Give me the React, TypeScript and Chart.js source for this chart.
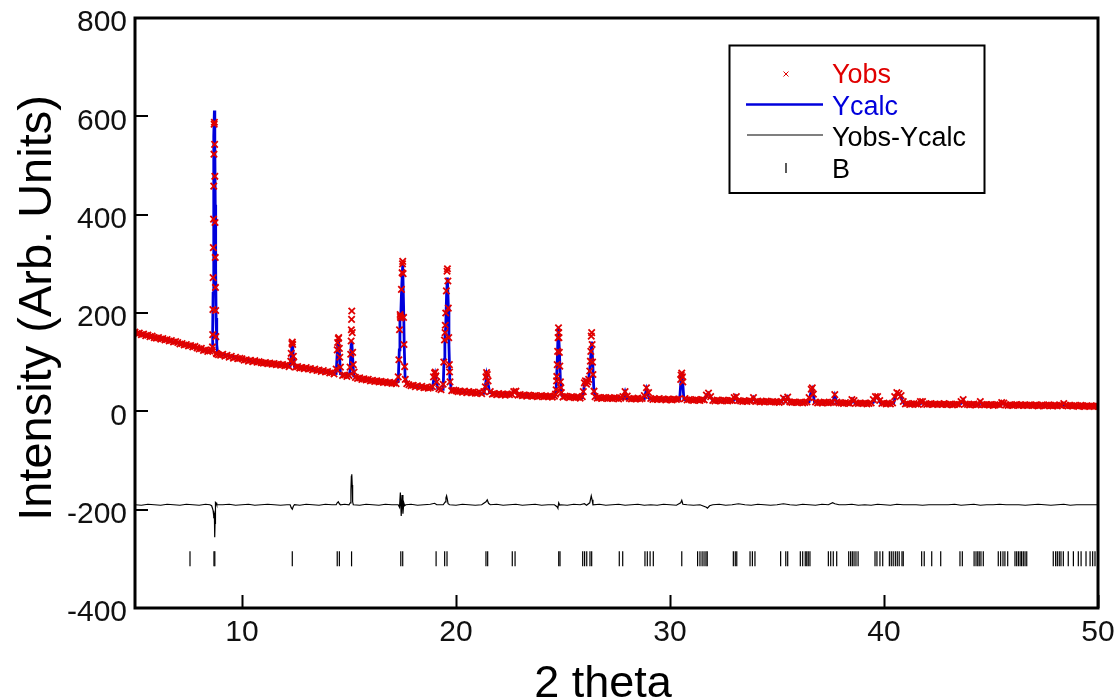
import React, { useEffect, useRef } from "react";
import { Chart, registerables } from "chart.js";

Chart.register(...registerables);

const FONT = '"Liberation Sans", Arial, Helvetica, sans-serif';
const RED = "#e00000";
const BLUE = "#0000dc";

const xTitle = "2 theta";
const yTitle = "Intensity (Arb. Units)";
const xTicks = [10, 20, 30, 40, 50];
const yTicks = [-400, -200, 0, 200, 400, 600, 800];
const legendLabels = ["Yobs", "Ycalc", "Yobs-Ycalc", "B"];

// Yobs on the measurement grid: 2θ = 5.0, 5.1, ... 50.0
const obsStart = 5;
const obsStep = 0.1;
const obsY = [
  161, 158, 159, 156, 157, 154, 155, 152, 153, 150,
  149, 150, 147, 148, 145, 146, 143, 144, 141, 142,
  140, 137, 138, 135, 136, 133, 134, 131, 132, 129,
  127, 128, 124, 125, 122, 123, 124, 584, 118, 115,
  114, 116, 112, 114, 110, 112, 108, 110, 107, 108,
  107, 104, 105, 102, 104, 101, 103, 100, 101, 99,
  98, 99, 97, 98, 96, 97, 95, 96, 94, 95,
  93, 94, 91, 118, 112, 90, 91, 88, 89, 87,
  89, 86, 87, 84, 86, 83, 84, 81, 83, 80,
  81, 78, 79, 76, 86, 148, 90, 73, 74, 71,
  73, 143, 95, 69, 67, 68, 65, 66, 64, 65,
  62, 63, 61, 62, 60, 61, 59, 60, 58, 59,
  57, 58, 56, 70, 193, 300, 91, 56, 54, 52,
  53, 50, 52, 49, 51, 48, 49, 47, 48, 50,
  78, 60, 46, 44, 55, 175, 290, 80, 42, 43,
  42, 40, 41, 39, 41, 38, 40, 38, 39, 37,
  37, 39, 36, 40, 70, 62, 40, 35, 36, 34,
  36, 34, 35, 33, 35, 34, 35, 40, 41, 33,
  34, 32, 33, 31, 33, 32, 31, 32, 30, 31,
  32, 30, 31, 30, 31, 29, 31, 62, 160, 48,
  29, 31, 30, 28, 30, 29, 28, 29, 27, 30,
  58, 55, 65, 122, 75, 30, 27, 28, 26, 28,
  28, 26, 27, 26, 28, 27, 25, 27, 30, 40,
  31, 26, 25, 26, 25, 27, 25, 26, 32, 48,
  38, 26, 24, 25, 24, 26, 24, 25, 23, 25,
  24, 23, 25, 24, 25, 65, 60, 26, 23, 24,
  23, 22, 24, 23, 22, 24, 23, 33, 37, 30,
  22, 21, 23, 22, 21, 23, 22, 21, 22, 22,
  28, 30, 22, 21, 20, 21, 20, 22, 21, 28,
  20, 21, 19, 20, 19, 21, 20, 19, 20, 19,
  19, 18, 20, 27, 20, 29, 19, 18, 19, 18,
  18, 19, 17, 18, 19, 28, 45, 35, 19, 17,
  18, 17, 19, 18, 17, 18, 19, 34, 19, 17,
  17, 16, 18, 17, 16, 24, 22, 17, 16, 17,
  16, 17, 15, 16, 17, 24, 30, 30, 22, 16,
  17, 15, 16, 15, 17, 30, 38, 36, 32, 20,
  15, 16, 14, 15, 16, 15, 14, 20, 20, 15,
  14, 15, 16, 14, 15, 14, 15, 14, 16, 14,
  14, 15, 13, 14, 15, 14, 20, 24, 15, 14,
  13, 14, 15, 13, 14, 20, 14, 13, 14, 13,
  14, 12, 13, 14, 13, 18, 17, 13, 12, 13,
  12, 13, 14, 12, 13, 12, 13, 12, 13, 12,
  12, 13, 11, 12, 13, 11, 12, 13, 12, 11,
  12, 11, 13, 12, 16, 12, 11, 12, 11, 12,
  11, 10, 12, 11, 10, 11, 10, 11, 10, 11,
  10,
];

// extra Yobs points read on the flanks of the peaks
const obsPeaks: [number, number][] = [
  [8.62, 131], [8.63, 156], [8.64, 207], [8.65, 272], [8.66, 333], [8.67, 391], [8.68, 458], [8.69, 523],
  [8.71, 588], [8.72, 543], [8.73, 478], [8.74, 384], [8.75, 313], [8.76, 252], [8.77, 205], [8.78, 152], [8.82, 117],
  [12.28, 102], [12.33, 138], [12.35, 141], [12.37, 136], [12.42, 100],
  [14.45, 125], [14.47, 140], [14.52, 150], [14.55, 128], [14.57, 110],
  [15.05, 90], [15.08, 116], [15.11, 166], [15.12, 187], [15.13, 204], [15.15, 160], [15.17, 120], [15.24, 80],
  [17.33, 105], [17.36, 166], [17.39, 197], [17.42, 190], [17.45, 248], [17.48, 282], [17.51, 305], [17.53, 280],
  [17.55, 191], [17.57, 136], [17.63, 65],
  [18.95, 70], [19.03, 80], [19.06, 72],
  [19.43, 100], [19.46, 145], [19.49, 160], [19.52, 200], [19.55, 245], [19.58, 285], [19.62, 265], [19.64, 210],
  [19.66, 150], [19.69, 95], [19.72, 60],
  [21.37, 50], [21.43, 79], [21.46, 75],
  [24.65, 35], [24.68, 44], [24.71, 71], [24.73, 95], [24.75, 122], [24.77, 150], [24.79, 170], [24.81, 150],
  [24.83, 120], [24.85, 92], [24.88, 60], [24.92, 38],
  [25.95, 40], [26.05, 62], [26.15, 60], [26.25, 82], [26.28, 102], [26.32, 153], [26.34, 160], [26.36, 136],
  [26.38, 100], [26.45, 41],
  [30.52, 74], [30.55, 78], [30.58, 70],
  [36.65, 48],
];

const calcPts: [number, number][] = [
  [5, 160], [5.5, 155], [6, 150], [6.5, 145], [7, 139], [7.5, 134], [8, 128], [8.5, 122],
  [8.55, 121], [8.6, 125], [8.63, 165], [8.65, 240], [8.67, 390], [8.69, 560], [8.71, 612], [8.73, 545],
  [8.75, 420], [8.77, 290], [8.79, 190], [8.82, 135], [8.86, 119], [9, 116], [9.5, 111], [10, 106],
  [10.5, 102], [11, 99], [11.5, 96], [12, 94], [12.25, 92], [12.3, 112], [12.35, 143], [12.4, 112],
  [12.45, 91], [13, 88], [13.5, 84], [14, 80], [14.4, 77], [14.45, 118], [14.5, 150], [14.55, 122],
  [14.6, 76], [15, 72], [15.05, 82], [15.1, 135], [15.13, 142], [15.17, 110], [15.22, 72], [15.5, 67],
  [16, 63], [16.5, 60], [17, 58], [17.3, 60], [17.35, 125], [17.38, 182], [17.42, 196], [17.46, 250],
  [17.51, 299], [17.55, 215], [17.58, 135], [17.62, 72], [17.7, 56], [18, 52], [18.5, 49], [18.9, 47],
  [18.95, 62], [19.02, 75], [19.08, 60], [19.15, 46], [19.4, 45], [19.44, 105], [19.48, 148], [19.52, 172],
  [19.56, 238], [19.6, 272], [19.64, 215], [19.67, 135], [19.71, 68], [19.78, 43], [20, 41], [20.5, 39],
  [21, 38], [21.3, 37], [21.37, 50], [21.43, 72], [21.5, 56], [21.57, 38], [22, 35], [22.6, 34],
  [22.7, 41], [22.8, 42], [22.9, 33], [23.5, 32], [24, 31], [24.6, 30], [24.68, 45], [24.73, 100],
  [24.78, 172], [24.83, 125], [24.88, 60], [24.95, 32], [25.5, 29], [25.9, 28], [25.97, 45], [26.03, 62],
  [26.1, 58], [26.2, 66], [26.27, 95], [26.34, 142], [26.38, 108], [26.44, 45], [26.52, 28], [27, 27],
  [27.8, 26], [27.9, 40], [28, 26], [28.8, 25], [28.9, 45], [29, 30], [29.05, 25], [29.5, 24],
  [30, 24], [30.45, 23], [30.5, 55], [30.55, 78], [30.6, 55], [30.65, 24], [31, 23], [31.6, 22],
  [31.7, 33], [31.8, 37], [31.9, 30], [32, 22], [32.5, 21], [32.95, 21], [33.05, 30], [33.15, 21],
  [33.8, 20], [33.9, 28], [34, 20], [35, 19], [35.2, 19], [35.3, 27], [35.4, 21], [35.5, 29],
  [35.6, 19], [36, 18], [36.5, 19], [36.6, 42], [36.65, 46], [36.75, 19], [37, 18], [37.6, 17],
  [37.7, 32], [37.8, 17], [38, 17], [38.45, 16], [38.55, 24], [38.65, 16], [39, 16], [39.5, 18],
  [39.62, 29], [39.72, 28], [39.85, 16], [40, 16], [40.45, 16], [40.55, 33], [40.65, 37], [40.75, 33],
  [40.85, 22], [40.95, 15], [41, 15], [41.7, 15], [41.8, 20], [41.9, 15], [42, 15], [43, 14],
  [43.6, 16], [43.7, 23], [43.8, 14], [44, 14], [44.4, 13], [44.5, 19], [44.6, 13], [45, 13],
  [45.45, 13], [45.55, 17], [45.65, 13], [46, 13], [47, 12], [48, 12], [48.35, 12], [48.4, 15],
  [48.45, 12], [49, 11], [50, 10],
];

const diffPts: [number, number][] = [
  [5, -190], [5.3, -191], [5.6, -189], [5.9, -190], [6.2, -191], [6.5, -189], [6.8, -190], [7.1, -191],
  [7.4, -189], [7.7, -190], [8, -191], [8.3, -189], [8.5, -190], [8.58, -192], [8.62, -197], [8.65, -202],
  [8.67, -208], [8.69, -213], [8.71, -210], [8.72, -230], [8.73, -256], [8.74, -228], [8.75, -204],
  [8.77, -185], [8.79, -186], [8.82, -190], [9.1, -190], [9.4, -189], [9.7, -191], [10, -190],
  [10.3, -189], [10.6, -191], [10.9, -190], [11.2, -189], [11.5, -190], [11.8, -191], [12.1, -190], [12.25, -190],
  [12.3, -196], [12.35, -199], [12.4, -193], [12.45, -190], [12.7, -191], [13, -189], [13.3, -190], [13.6, -191],
  [13.9, -189], [14.2, -190], [14.4, -190], [14.45, -186], [14.5, -184], [14.55, -188], [14.6, -190], [14.8, -189],
  [15, -190], [15.06, -186], [15.09, -160], [15.11, -132], [15.13, -128], [15.15, -150], [15.17, -184], [15.2, -190],
  [15.5, -191], [15.8, -189], [16.1, -190], [16.4, -191], [16.7, -189], [17, -190], [17.3, -190], [17.36, -195],
  [17.4, -165], [17.44, -213], [17.48, -170], [17.52, -208], [17.56, -186], [17.6, -192],
  [17.65, -190], [17.9, -189], [18.2, -191], [18.5, -190], [18.8, -189], [19, -187], [19.1, -190], [19.4, -190],
  [19.5, -184], [19.53, -176], [19.56, -172], [19.6, -180], [19.63, -188], [19.7, -190], [20, -191], [20.3, -189],
  [20.6, -190], [20.9, -191], [21.2, -190], [21.4, -184], [21.46, -180], [21.52, -187], [21.6, -190], [21.9, -189],
  [22.2, -191], [22.5, -190], [22.8, -189], [23.1, -191], [23.4, -190], [23.7, -189], [24, -191], [24.3, -190],
  [24.6, -190], [24.72, -194], [24.76, -197], [24.8, -186], [24.85, -191], [24.9, -190], [25.2, -191], [25.5, -189],
  [25.8, -190], [26, -188], [26.1, -191], [26.25, -186], [26.32, -172], [26.36, -180], [26.4, -190], [26.7, -189],
  [27, -191], [27.3, -190], [27.6, -189], [27.9, -191], [28.2, -190], [28.5, -189], [28.8, -191], [29.1, -190],
  [29.4, -191], [29.7, -189], [30, -190], [30.3, -191], [30.5, -186], [30.55, -181], [30.6, -189], [30.8, -190],
  [31.1, -191], [31.4, -190], [31.7, -195], [31.75, -197], [31.85, -192], [32, -190], [32.3, -189], [32.6, -191],
  [32.9, -190], [33.2, -188], [33.5, -190], [33.8, -191], [34.1, -189], [34.4, -190], [34.7, -191], [35, -190],
  [35.3, -188], [35.6, -190], [35.9, -191], [36.2, -189], [36.5, -190], [36.8, -191], [37.1, -189], [37.4, -190],
  [37.6, -186], [37.7, -188], [37.9, -190], [38.2, -190], [38.5, -189], [38.8, -191], [39.1, -190], [39.4, -191],
  [39.7, -189], [40, -190], [40.3, -191], [40.6, -189], [40.9, -190], [41.2, -190], [41.5, -190], [41.8, -191],
  [42.1, -190], [42.4, -190], [42.7, -190], [43, -190], [43.3, -189], [43.6, -191], [43.9, -190], [44.2, -189],
  [44.5, -191], [44.8, -190], [45.1, -190], [45.4, -189], [45.7, -190], [46, -190], [46.3, -190], [46.6, -191],
  [46.9, -190], [47.2, -189], [47.5, -190], [47.8, -191], [48.1, -190], [48.4, -189], [48.7, -191], [49, -190],
  [49.3, -190], [49.6, -190], [50, -190],
];

// Bragg reflection positions (phase B), drawn at the reflection level
const reflectionLevel = -300;
const reflections = [
  7.57, 8.69, 8.73, 12.35, 14.45, 14.55, 15.12, 17.42, 17.51, 19.07, 19.47, 19.58, 21.4, 21.48, 22.63, 22.76,
  24.8, 24.86, 25.92, 26.01, 26.11, 26.26, 26.34, 27.63, 27.79, 28.83, 28.94, 29.07, 29.22, 30.55, 31.29, 31.4,
  31.5, 31.59, 31.68, 31.74, 32.96, 33.05, 33.12, 33.74, 33.85, 33.97, 35.17, 35.41, 35.5, 36.09, 36.2, 36.32,
  36.39, 36.46, 36.54, 37.4, 37.51, 37.63, 37.79, 38.35, 38.44, 38.52, 38.6, 38.69, 38.79, 39.58, 39.67, 39.81,
  39.94, 40.25, 40.34, 40.43, 40.53, 40.62, 40.71, 40.84, 40.9, 41.76, 41.88, 42.23, 42.65, 43.55, 43.66, 44.21,
  44.3, 44.38, 44.45, 44.53, 44.64, 45.34, 45.45, 45.56, 45.65, 45.78, 46.12, 46.2, 46.28, 46.36, 46.43, 46.51,
  46.59, 46.67, 47.91, 48.02, 48.1, 48.19, 48.27, 48.38, 48.61, 48.85, 49.08, 49.21, 49.44, 49.63, 49.75, 49.86,
];

const decorPlugin = {
  id: "decor",
  afterDraw(chart: any) {
    const { ctx, chartArea: a, scales } = chart;
    const xs = scales.x;
    const ys = scales.y;
    ctx.save();
    // inner tick marks
    ctx.strokeStyle = "#000";
    ctx.lineWidth = 2;
    ctx.beginPath();
    for (const v of xTicks) {
      const px = Math.round(xs.getPixelForValue(v)) + 0.5;
      ctx.moveTo(px, a.bottom);
      ctx.lineTo(px, a.bottom - 13);
    }
    for (const v of yTicks) {
      const py = Math.round(ys.getPixelForValue(v));
      ctx.moveTo(a.left, py);
      ctx.lineTo(a.left + 13, py);
    }
    ctx.stroke();
    // frame
    ctx.lineWidth = 3;
    ctx.strokeRect(a.left, a.top, a.right - a.left, a.bottom - a.top);

    // axis titles
    ctx.fillStyle = "#000";
    ctx.textBaseline = "alphabetic";
    ctx.textAlign = "center";
    ctx.font = `47px ${FONT}`;
    ctx.save();
    ctx.translate(51, 308);
    ctx.rotate(-Math.PI / 2);
    ctx.fillText(yTitle, 0, 0);
    ctx.restore();
    ctx.font = `45px ${FONT}`;
    ctx.fillText(xTitle, 603, 697);

    // legend
    const lx = 729.5, ly = 45.5, lw = 255, lh = 147.5;
    ctx.fillStyle = "#fff";
    ctx.fillRect(lx, ly, lw, lh);
    ctx.lineWidth = 2;
    ctx.strokeStyle = "#000";
    ctx.strokeRect(lx, ly, lw, lh);
    const baselines = [83, 115, 146, 178];
    const colors = [RED, BLUE, "#000", "#000"];
    ctx.font = `27px ${FONT}`;
    ctx.textAlign = "left";
    legendLabels.forEach((t, i) => {
      ctx.fillStyle = colors[i];
      ctx.fillText(t, 832, baselines[i]);
    });
    // sample: cross
    ctx.strokeStyle = RED;
    ctx.lineWidth = 1;
    ctx.beginPath();
    ctx.moveTo(783.5, 71.5); ctx.lineTo(788.5, 76.5);
    ctx.moveTo(788.5, 71.5); ctx.lineTo(783.5, 76.5);
    ctx.stroke();
    // sample: blue line
    ctx.strokeStyle = BLUE;
    ctx.lineWidth = 2.5;
    ctx.beginPath();
    ctx.moveTo(746, 104.5); ctx.lineTo(823, 104.5);
    ctx.stroke();
    // sample: black line
    ctx.strokeStyle = "#000";
    ctx.lineWidth = 1.2;
    ctx.beginPath();
    ctx.moveTo(747, 135); ctx.lineTo(823, 135);
    ctx.stroke();
    // sample: reflection tick
    ctx.lineWidth = 1.3;
    ctx.beginPath();
    ctx.moveTo(786, 163); ctx.lineTo(786, 173);
    ctx.stroke();
    ctx.restore();
  },
};

export default function App() {
  const ref = useRef<HTMLCanvasElement | null>(null);

  useEffect(() => {
    const canvas = ref.current;
    if (!canvas) return;
    const obsData = obsY.map((y, i) => ({ x: Math.round((obsStart + i * obsStep) * 100) / 100, y }));
    for (const [x, y] of obsPeaks) obsData.push({ x, y });
    const calcData = calcPts.map(([x, y]) => ({ x, y }));
    const diffData = diffPts.map(([x, y]) => ({ x, y }));
    const reflData = reflections.map((x) => ({ x, y: reflectionLevel }));

    const tickFont = { family: FONT, size: 30 };
    const chart = new Chart(canvas, {
      type: "scatter",
      data: {
        datasets: [
          {
            label: legendLabels[0],
            data: obsData,
            pointStyle: "crossRot",
            pointRadius: 4.5,
            pointBorderWidth: 1.8,
            borderColor: RED,
            backgroundColor: RED,
            order: 0,
          },
          {
            label: legendLabels[1],
            data: calcData,
            showLine: true,
            borderColor: BLUE,
            backgroundColor: BLUE,
            borderWidth: 2.8,
            pointRadius: 0,
            order: 1,
          },
          {
            label: legendLabels[2],
            data: diffData,
            showLine: true,
            borderColor: "#000",
            backgroundColor: "#000",
            borderWidth: 1.2,
            pointRadius: 0,
            order: 2,
          },
          {
            label: legendLabels[3],
            data: reflData,
            pointStyle: "line",
            pointRotation: 90,
            pointRadius: 7.5,
            pointBorderWidth: 1.2,
            borderColor: "#000",
            backgroundColor: "#000",
            order: 3,
          },
        ],
      } as any,
      options: {
        responsive: false,
        animation: false,
        devicePixelRatio: 1,
        events: [],
        layout: { padding: { left: 0, right: 21, top: 18, bottom: 0 } },
        plugins: { legend: { display: false }, tooltip: { enabled: false }, title: { display: false } },
        scales: {
          x: {
            type: "linear",
            min: 5,
            max: 50,
            afterBuildTicks: (s: any) => {
              s.ticks = xTicks.map((v) => ({ value: v }));
            },
            afterFit: (s: any) => {
              s.height = 92;
              s.paddingLeft = 0;
              s.paddingRight = 0;
            },
            grid: { display: false, drawTicks: false },
            border: { display: false },
            ticks: { font: tickFont, color: "#111", padding: 7, maxRotation: 0, autoSkip: false },
          },
          y: {
            type: "linear",
            min: -400,
            max: 800,
            afterBuildTicks: (s: any) => {
              s.ticks = yTicks.map((v) => ({ value: v }));
            },
            afterFit: (s: any) => {
              s.width = 135;
              s.paddingTop = 0;
              s.paddingBottom = 0;
            },
            grid: { display: false, drawTicks: false },
            border: { display: false },
            ticks: { font: tickFont, color: "#111", padding: 8, labelOffset: 5, autoSkip: false },
          },
        },
      } as any,
      plugins: [decorPlugin],
    });
    return () => chart.destroy();
  }, []);

  return (
    <div style={{ position: "absolute", left: 0, top: 0, width: 1119, height: 700, background: "#fff" }}>
      <canvas ref={ref} width={1119} height={700} style={{ display: "block" }} />
    </div>
  );
}
